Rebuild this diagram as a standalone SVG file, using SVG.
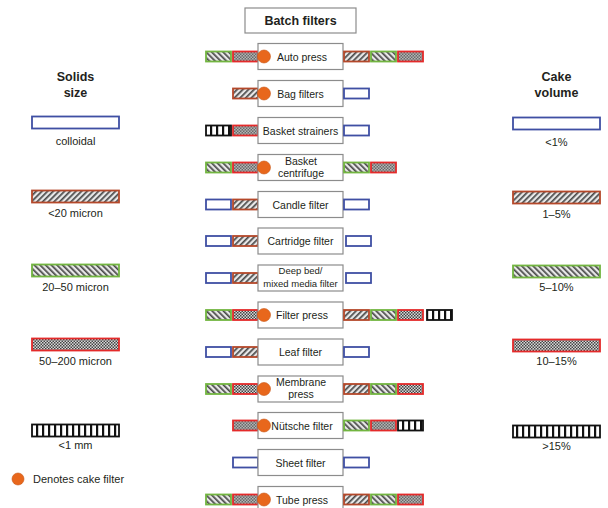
<svg xmlns="http://www.w3.org/2000/svg" width="608" height="508" viewBox="0 0 608 508">
<defs>
<pattern id="pH" width="4" height="4" patternUnits="userSpaceOnUse" patternTransform="rotate(45)"><rect width="4" height="4" fill="#e8e8e8"/><rect width="1.7" height="4" fill="#4a4a4a"/></pattern>
<pattern id="pG" width="4" height="4" patternUnits="userSpaceOnUse" patternTransform="rotate(-45)"><rect width="4" height="4" fill="#e8e8e8"/><rect width="1.7" height="4" fill="#4a4a4a"/></pattern>
<pattern id="pC" width="3" height="3" patternUnits="userSpaceOnUse"><rect width="3" height="3" fill="#d8d8d8"/><rect width="1.5" height="1.5" fill="#444"/><rect x="1.5" y="1.5" width="1.5" height="1.5" fill="#444"/></pattern>
<pattern id="pK" width="6" height="20" patternUnits="userSpaceOnUse"><rect width="6" height="20" fill="#fff"/><rect width="2.2" height="20" fill="#111"/></pattern>
</defs>
<style>
text{font-family:"Liberation Sans",Arial,sans-serif;fill:#231f20;}
.t{font-size:10.5px;text-anchor:middle;}
.s{font-size:9.5px;text-anchor:middle;}
.l{font-size:11px;text-anchor:middle;}
.hd{font-size:12.5px;font-weight:bold;text-anchor:middle;}
.box{fill:#fff;stroke:#8c8c8c;stroke-width:1.2;}
.b{fill:#fff;stroke:#3f4fa3;stroke-width:1.8;}
.h{fill:url(#pH);stroke:#b4482a;stroke-width:1.8;}
.g{fill:url(#pG);stroke:#72b540;stroke-width:1.8;}
.c{fill:url(#pC);stroke:#e42a2a;stroke-width:1.8;}
.k{fill:url(#pK);stroke:#111;stroke-width:1.8;}
.dot{fill:#e8671c;stroke:#c85514;stroke-width:0.6;}
</style>
<rect width="608" height="508" fill="#fff"/>

<g id="title">
<rect class="box" x="245" y="8" width="111" height="25"/>
<text class="hd" x="300.5" y="25">Batch filters</text>
</g>

<g id="legend-solids">
<text class="hd" x="75.5" y="81">Solids</text>
<text class="hd" x="75.5" y="97">size</text>
<rect class="b" x="32" y="116.5" width="87" height="12"/>
<text class="l" x="75.5" y="145">colloidal</text>
<rect class="h" x="32" y="190.5" width="87" height="12"/>
<text class="l" x="75.5" y="217">&lt;20 micron</text>
<rect class="g" x="32" y="264.5" width="87" height="12"/>
<text class="l" x="75.5" y="291">20–50 micron</text>
<rect class="c" x="32" y="338.5" width="87" height="12"/>
<text class="l" x="75.5" y="365">50–200 micron</text>
<rect class="k" x="32" y="424.5" width="87" height="12"/>
<text class="l" x="75.5" y="449">&lt;1 mm</text>
<circle class="dot" cx="18" cy="479" r="6"/>
<text class="l" x="33" y="483" style="text-anchor:start">Denotes cake filter</text>
</g>

<g id="legend-cake">
<text class="hd" x="556.5" y="81">Cake</text>
<text class="hd" x="556.5" y="97">volume</text>
<rect class="b" x="513" y="117.5" width="87" height="12"/>
<text class="l" x="556.5" y="146">&lt;1%</text>
<rect class="h" x="513" y="191.5" width="87" height="12"/>
<text class="l" x="556.5" y="218">1–5%</text>
<rect class="g" x="513" y="265.5" width="87" height="12"/>
<text class="l" x="556.5" y="291">5–10%</text>
<rect class="c" x="513" y="339.5" width="87" height="12"/>
<text class="l" x="556.5" y="365">10–15%</text>
<rect class="k" x="513" y="425.5" width="87" height="12"/>
<text class="l" x="556.5" y="450">&gt;15%</text>
</g>

<g id="auto-press" transform="translate(0,56.5)">
<rect class="g" x="206" y="-5" width="25" height="10"/><rect class="c" x="233" y="-5" width="25" height="10"/>
<rect class="box" x="258" y="-13" width="85" height="26"/>
<rect class="h" x="344" y="-5" width="25" height="10"/><rect class="g" x="371" y="-5" width="25" height="10"/><rect class="c" x="398" y="-5" width="25" height="10"/>
<circle class="dot" cx="264" cy="0" r="6.5"/>
<text class="t" x="302" y="4">Auto press</text>
</g>

<g id="bag-filters" transform="translate(0,93.5)">
<rect class="h" x="233" y="-5" width="25" height="10"/>
<rect class="box" x="258" y="-13" width="85" height="26"/>
<rect class="b" x="344" y="-5" width="25" height="10"/>
<circle class="dot" cx="264" cy="0" r="6.5"/>
<text class="t" x="300.5" y="4">Bag filters</text>
</g>

<g id="basket-strainers" transform="translate(0,130.5)">
<rect class="k" x="206" y="-5" width="25" height="10"/><rect class="c" x="233" y="-5" width="25" height="10"/>
<rect class="box" x="258" y="-13" width="85" height="26"/>
<rect class="b" x="344" y="-5" width="25" height="10"/>
<text class="t" x="300.5" y="4">Basket strainers</text>
</g>

<g id="basket-centrifuge" transform="translate(0,167.5)">
<rect class="g" x="206" y="-5" width="25" height="10"/><rect class="c" x="233" y="-5" width="25" height="10"/>
<rect class="box" x="258" y="-13" width="85" height="26"/>
<rect class="g" x="344" y="-5" width="25" height="10"/><rect class="c" x="371" y="-5" width="25" height="10"/>
<circle class="dot" cx="264" cy="0" r="6.5"/>
<text class="t" x="301" y="-3">Basket</text>
<text class="t" x="301" y="9">centrifuge</text>
</g>

<g id="candle-filter" transform="translate(0,204.5)">
<rect class="b" x="206" y="-5" width="25" height="10"/><rect class="h" x="233" y="-5" width="25" height="10"/>
<rect class="box" x="258" y="-13" width="85" height="26"/>
<rect class="b" x="344" y="-5" width="25" height="10"/>
<text class="t" x="300.5" y="4">Candle filter</text>
</g>

<g id="cartridge-filter" transform="translate(0,241)">
<rect class="b" x="206" y="-5" width="25" height="10"/><rect class="h" x="233" y="-5" width="25" height="10"/>
<rect class="box" x="258" y="-13" width="85" height="26"/>
<rect class="b" x="346" y="-5" width="25" height="10"/>
<text class="t" x="300.5" y="4">Cartridge filter</text>
</g>

<g id="deep-bed-filter" transform="translate(0,278)">
<rect class="b" x="206" y="-5" width="25" height="10"/><rect class="h" x="233" y="-5" width="25" height="10"/>
<rect class="box" x="258" y="-13" width="85" height="26"/>
<rect class="b" x="346" y="-5" width="25" height="10"/>
<text class="s" x="300.5" y="-4">Deep bed/</text>
<text class="s" x="300.5" y="9">mixed media filter</text>
</g>

<g id="filter-press" transform="translate(0,315)">
<rect class="g" x="206" y="-5" width="25" height="10"/><rect class="c" x="233" y="-5" width="25" height="10"/>
<rect class="box" x="258" y="-13" width="85" height="26"/>
<rect class="h" x="344" y="-5" width="25" height="10"/><rect class="g" x="371" y="-5" width="25" height="10"/><rect class="c" x="398" y="-5" width="25" height="10"/><rect class="k" x="427" y="-5" width="25" height="10"/>
<circle class="dot" cx="264" cy="0" r="6.5"/>
<text class="t" x="302" y="4">Filter press</text>
</g>

<g id="leaf-filter" transform="translate(0,352)">
<rect class="b" x="206" y="-5" width="25" height="10"/><rect class="h" x="233" y="-5" width="25" height="10"/>
<rect class="box" x="258" y="-13" width="85" height="26"/>
<rect class="b" x="344" y="-5" width="25" height="10"/>
<text class="t" x="300.5" y="4">Leaf filter</text>
</g>

<g id="membrane-press" transform="translate(0,389)">
<rect class="g" x="206" y="-5" width="25" height="10"/><rect class="c" x="233" y="-5" width="25" height="10"/>
<rect class="box" x="258" y="-13" width="85" height="26"/>
<rect class="h" x="344" y="-5" width="25" height="10"/><rect class="g" x="371" y="-5" width="25" height="10"/><rect class="c" x="398" y="-5" width="25" height="10"/>
<circle class="dot" cx="264" cy="0" r="6.5"/>
<text class="t" x="301" y="-3">Membrane</text>
<text class="t" x="301" y="9">press</text>
</g>

<g id="nutsche-filter" transform="translate(0,425.5)">
<rect class="c" x="233" y="-5" width="25" height="10"/>
<rect class="box" x="258" y="-13" width="85" height="26"/>
<rect class="g" x="344" y="-5" width="25" height="10"/><rect class="c" x="371" y="-5" width="25" height="10"/><rect class="k" x="398" y="-5" width="25" height="10"/>
<circle class="dot" cx="264" cy="0" r="6.5"/>
<text class="t" x="302" y="4">Nütsche filter</text>
</g>

<g id="sheet-filter" transform="translate(0,462.5)">
<rect class="b" x="233" y="-5" width="25" height="10"/>
<rect class="box" x="258" y="-13" width="85" height="26"/>
<rect class="b" x="344" y="-5" width="25" height="10"/>
<text class="t" x="300.5" y="4">Sheet filter</text>
</g>

<g id="tube-press" transform="translate(0,499.5)">
<rect class="g" x="206" y="-5" width="25" height="10"/><rect class="c" x="233" y="-5" width="25" height="10"/>
<rect class="box" x="258" y="-13" width="85" height="26"/>
<rect class="h" x="344" y="-5" width="25" height="10"/><rect class="g" x="371" y="-5" width="25" height="10"/><rect class="c" x="398" y="-5" width="25" height="10"/>
<circle class="dot" cx="264" cy="0" r="6.5"/>
<text class="t" x="302" y="4">Tube press</text>
</g>
</svg>
